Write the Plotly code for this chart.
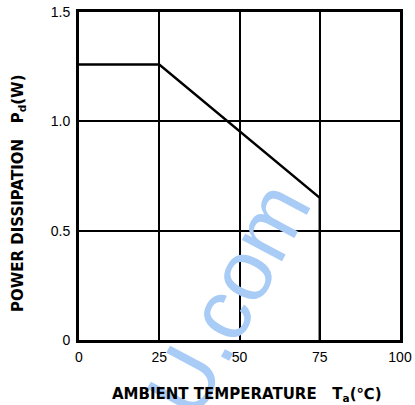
import plotly.graph_objects as go

# Data
temp_c = [0, 25, 75, 75]
power_w = [1.26, 1.26, 0.65, 0]
x_ticks = [0, 25, 50, 75, 100]
x_labels = ["0", "25", "50", "75", "100"]
y_ticks = [0, 0.5, 1.0, 1.5]
y_labels = ["0", "0.5", "1.0", "1.5"]

fig = go.Figure()
fig.add_trace(go.Scatter(x=temp_c, y=power_w, mode="lines",
                         line=dict(color="black", width=2.4),
                         showlegend=False, hoverinfo="skip"))

axis_common = dict(showgrid=True, gridcolor="black", gridwidth=1.5,
                   showline=True, linecolor="black", linewidth=3, mirror=True,
                   zeroline=False, ticks="", fixedrange=True, automargin=False,
                   ticklabeloverflow="allow",
                   tickfont=dict(family="Liberation Sans", size=14, color="black"))

fig.update_xaxes(range=[0, 100], tickvals=x_ticks, ticktext=x_labels, ticklabelstandoff=2, **axis_common)
fig.update_yaxes(range=[0, 1.5], tickvals=y_ticks, ticktext=y_labels, ticklabelstandoff=3, **axis_common)

W, H = 415, 405
PL, PR, PT, PB = 79, 400, 12, 340
fig.add_annotation(text="U.com", xref="paper", yref="paper",
                   x=(228 - PL) / (PR - PL), y=(PB - 299) / (PB - PT), showarrow=False, textangle=-62,
                   xanchor="center", yanchor="middle",
                   font=dict(family="Liberation Sans", size=86, color="#a8ccf6"))
fig.add_annotation(text="<b>AMBIENT TEMPERATURE   T<sub>a</sub>(℃)</b>", xref="paper", yref="paper",
                   x=(247 - PL) / (PR - PL), y=(PB - 394) / (PB - PT), showarrow=False,
                   xanchor="center", yanchor="middle",
                   font=dict(family="DejaVu Sans", size=15, color="black"))
fig.add_annotation(text="<b>POWER DISSIPATION   P<sub>d</sub>(W)</b>", xref="paper", yref="paper",
                   x=(19 - PL) / (PR - PL), y=(PB - 193) / (PB - PT), showarrow=False, textangle=-90,
                   xanchor="center", yanchor="middle",
                   font=dict(family="DejaVu Sans", size=15, color="black"))

fig.update_layout(width=W, height=H,
                  margin=dict(l=PL, r=W - PR, t=PT, b=H - PB, autoexpand=False),
                  paper_bgcolor="white", plot_bgcolor="white")

fig.write_html("out.html", config={"displayModeBar": False},
               post_script="document.body.style.margin='0px';document.body.style.overflow='hidden';")
